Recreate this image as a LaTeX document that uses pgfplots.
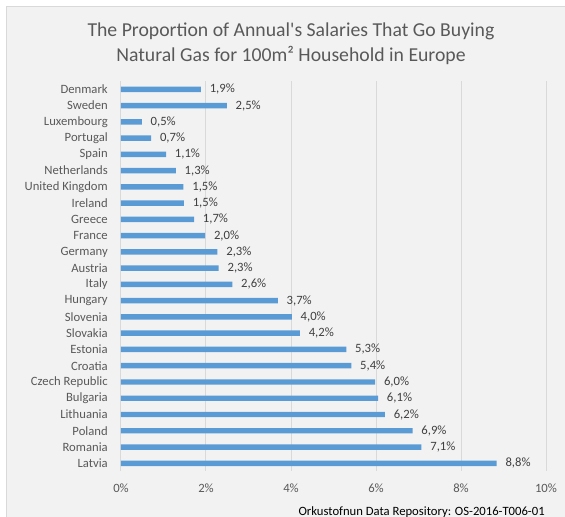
\documentclass[border=0pt]{standalone}
\usepackage{pgfplots}
\pgfplotsset{compat=1.18}
\usepackage{pgfplotstable}
\usepackage{fontspec}
\setmainfont{Carlito}
\definecolor{barblue}{HTML}{5B9BD5}
\definecolor{chartbg}{HTML}{F2F2F2}
\definecolor{framegray}{HTML}{D9D9D9}
\definecolor{gridgray}{HTML}{D9D9D9}
\definecolor{ticktext}{HTML}{595959}
\definecolor{labtext}{HTML}{404040}

% share of annual salary, top (0) to bottom (23)
\pgfplotstableread{
i v lab
0 1.88 1,9
1 2.49 2,5
2 0.49 0,5
3 0.71 0,7
4 1.06 1,1
5 1.29 1,3
6 1.47 1,5
7 1.48 1,5
8 1.72 1,7
9 1.98 2,0
10 2.27 2,3
11 2.30 2,3
12 2.62 2,6
13 3.69 3,7
14 4.02 4,0
15 4.21 4,2
16 5.30 5,3
17 5.42 5,4
18 5.98 6,0
19 6.05 6,1
20 6.21 6,2
21 6.86 6,9
22 7.07 7,1
23 8.84 8,8
}\gasdata

\begin{document}
\begin{tikzpicture}
  \path[use as bounding box] (0pt,0pt) rectangle (423.75pt,-387.75pt);
  \filldraw[fill=chartbg, draw=framegray, line width=0.75pt]
    (4.5pt,-5.25pt) rectangle (440pt,-400pt);
  \node[align=center, text=ticktext, font=\fontsize{14.8}{19}\selectfont,
        inner sep=0pt] at (218.25pt,-33pt)
    {The Proportion of Annual\textquotesingle s Salaries That Go Buying\\
     Natural Gas for 100m² Household in Europe};
  \begin{axis}[
    at={(90.75pt,-353.55pt)}, anchor=south west,
    scale only axis,
    width=318.75pt, height=292.65pt,
    xbar, bar width=4.1pt,
    xmin=0, xmax=10,
    ymin=-0.5, ymax=23.5,
    y dir=reverse,
    axis line style={draw=none},
    major tick length=0pt,
    xtick={0,2,4,6,8,10},
    xticklabels={0\%,2\%,4\%,6\%,8\%,10\%},
    ytick={0,...,23},
    yticklabels={Denmark,Sweden,Luxembourg,Portugal,Spain,Netherlands,
      United Kingdom,Ireland,Greece,France,Germany,Austria,Italy,Hungary,
      Slovenia,Slovakia,Estonia,Croatia,Czech Republic,Bulgaria,Lithuania,
      Poland,Romania,Latvia},
    xmajorgrids,
    major grid style={gridgray, line width=0.75pt},
    tick label style={text=ticktext, font=\fontsize{9.5}{11}\selectfont, inner sep=0pt},
    yticklabel style={anchor=east, xshift=-9.75pt},
    xticklabel style={anchor=center, yshift=-12.45pt},
    point meta=explicit symbolic,
    nodes near coords={\pgfplotspointmeta\%},
    nodes near coords style={anchor=west, inner sep=0pt, xshift=6.45pt,
      text=labtext, font=\fontsize{9.5}{11}\selectfont},
    ]
    \addplot[fill=barblue, draw=none] table[x=v, y=i, meta=lab] {\gasdata};
  \end{axis}
  \node[anchor=east, inner sep=0pt, font=\fontsize{9.5}{11}\selectfont]
    at (408.75pt,-383.8pt) {Orkustofnun Data Repository: OS-2016-T006-01};
\end{tikzpicture}
\end{document}
